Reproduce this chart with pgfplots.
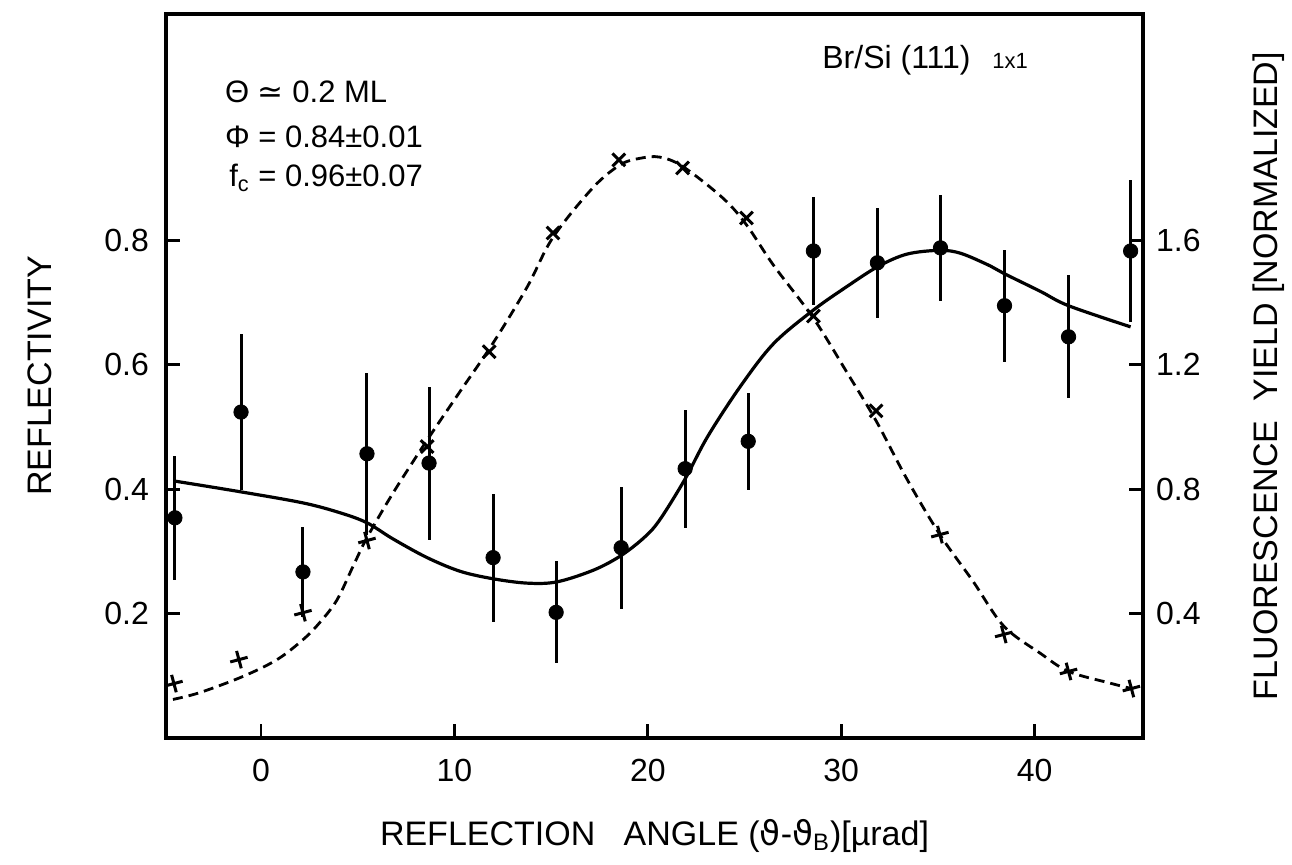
\documentclass[border=0pt]{standalone}
\usepackage{fontspec}
\setmainfont{Liberation Sans}
\newfontfamily\dv{DejaVu Sans}
\usepackage{pgfplots}
\pgfplotsset{compat=1.18}

\pgfplotstableread{
x y e
-4.45 0.354 0.100
-1.03 0.524 0.125
2.17 0.267 0.072
5.48 0.457 0.130
8.69 0.442 0.123
12.00 0.290 0.103
15.26 0.202 0.082
18.62 0.306 0.098
21.93 0.433 0.095
25.19 0.477 0.078
28.56 0.783 0.087
31.87 0.764 0.088
35.13 0.788 0.085
38.44 0.695 0.090
41.75 0.645 0.099
44.96 0.783 0.114
}\refl

\pgfplotstableread{
x y
-4.45 0.413
-1.09 0.396
2.17 0.378
4.10 0.362
5.48 0.346
6.83 0.320
8.59 0.290
10.30 0.268
12.00 0.256
13.76 0.249
15.30 0.251
17.20 0.270
18.60 0.293
19.80 0.322
20.60 0.350
21.90 0.415
23.10 0.485
24.80 0.566
26.50 0.634
28.56 0.688
30.30 0.726
31.90 0.758
33.40 0.778
35.10 0.784
36.20 0.779
37.70 0.759
38.40 0.747
40.30 0.718
41.75 0.695
44.96 0.661
}\reflfit

\pgfplotstableread{
x y
8.59 0.937
11.80 1.242
15.10 1.624
18.50 1.859
21.80 1.833
25.10 1.672
28.56 1.357
31.80 1.052
}\fluoX

\pgfplotstableread{
x y
-4.50 0.175
-1.14 0.252
2.17 0.403
5.48 0.635
35.10 0.654
38.40 0.333
41.75 0.214
45.00 0.159
}\fluoP

\pgfplotstableread{
x y
-4.55 0.124
-3.16 0.146
-0.93 0.198
0.83 0.252
2.17 0.316
3.05 0.372
3.93 0.444
4.76 0.552
5.48 0.644
6.83 0.788
8.59 0.958
10.29 1.114
12.00 1.270
13.76 1.450
15.10 1.610
17.20 1.772
18.60 1.844
19.60 1.864
20.60 1.868
21.80 1.838
23.90 1.735
25.10 1.650
26.50 1.520
28.56 1.350
30.30 1.175
31.80 1.020
33.40 0.832
35.10 0.654
36.80 0.505
38.40 0.360
40.30 0.272
41.75 0.214
43.80 0.178
45.00 0.159
}\fluofit

\begin{document}
\begin{tikzpicture}
\useasboundingbox (-83pt,-63pt) rectangle (563pt,369pt);
\begin{axis}[
  at={(0pt,0pt)}, anchor=south west,
  scale only axis, width=488.5pt, height=362pt,
  xmin=-4.91, xmax=45.6, ymin=0, ymax=1.164,
  xtick={0,10,20,30,40}, ytick={0.2,0.4,0.6,0.8},
  xtick pos=bottom, ytick pos=left, tick align=inside,
  major tick length=7pt,
  every tick/.style={black, line width=1.4pt},
  axis line style={line width=1.6pt},
  tick label style={font=\fontsize{16}{18}\selectfont},
  /pgf/number format/assume math mode=true,
  yticklabel style={/pgf/number format/fixed, /pgf/number format/precision=1, /pgf/number format/fixed zerofill, xshift=-5pt},
  xticklabel style={yshift=-7pt},
  every axis y label/.style={at={(rel axis cs:0,0.5)}, xshift=-63pt, rotate=90, anchor=center, font=\fontsize{17}{20}\selectfont},
  every axis x label/.style={at={(rel axis cs:0.5,0)}, yshift=-53.5pt, anchor=base, font=\fontsize{17}{20}\selectfont},
  xlabel={REFLECTION\ \ \ ANGLE\ ({\dv ϑ}-{\dv ϑ}\textsubscript{B})[µrad]},
  ylabel={REFLECTIVITY},
]
\addplot[black, line width=1.6pt, smooth, tension=0.55] table {\reflfit};
\addplot[black, only marks, mark=*, mark size=3.6pt,
  error bars/.cd, y dir=both, y explicit, error mark=none,
  error bar style={line width=1.5pt}]
  table[x=x, y=y, y error=e] {\refl};
\node[anchor=base west, font=\fontsize{15.5}{18}\selectfont] at (axis cs:-2.22,1.021) {Θ {\dv ≃} 0.2 ML};
\node[anchor=base west, font=\fontsize{15.5}{18}\selectfont] at (axis cs:-2.22,0.950) {Φ = 0.84±0.01};
\node[anchor=base west, font=\fontsize{15.5}{18}\selectfont] at (axis cs:-2.0,0.886) {f\textsubscript{c} = 0.96±0.07};
\node[anchor=base west, font=\fontsize{16}{18}\selectfont] at (axis cs:28.66,1.077) {Br/Si (111)};
\node[anchor=base west, font=\fontsize{11}{13}\selectfont] at (axis cs:37.45,1.077) {1x1};
\end{axis}
\begin{axis}[
  at={(0pt,0pt)}, anchor=south west,
  scale only axis, width=488.5pt, height=362pt,
  xmin=-4.91, xmax=45.6, ymin=0, ymax=2.328,
  axis x line=none, axis y line*=right,
  ytick={0.4,0.8,1.2,1.6},
  tick align=inside, major tick length=7pt,
  every tick/.style={black, line width=1.4pt},
  axis line style={line width=1.6pt},
  tick label style={font=\fontsize{16}{18}\selectfont},
  /pgf/number format/assume math mode=true,
  yticklabel style={/pgf/number format/fixed, /pgf/number format/precision=1, /pgf/number format/fixed zerofill, xshift=3pt},
  every axis y label/.style={at={(rel axis cs:1,0.5)}, xshift=63pt, rotate=90, anchor=center, font=\fontsize{17}{20}\selectfont},
  ylabel={FLUORESCENCE\ \ YIELD [NORMALIZED]},
]
\addplot[black, line width=1.4pt, smooth, tension=0.55, dash pattern=on 5pt off 3pt] table {\fluofit};
\addplot[black, only marks, mark=x, mark size=4.5pt, mark options={line width=1.5pt}] table {\fluoX};
\addplot[black, only marks, mark=+, mark size=4.5pt, mark options={line width=1.5pt, rotate=15}] table {\fluoP};
\end{axis}
\end{tikzpicture}
\end{document}
